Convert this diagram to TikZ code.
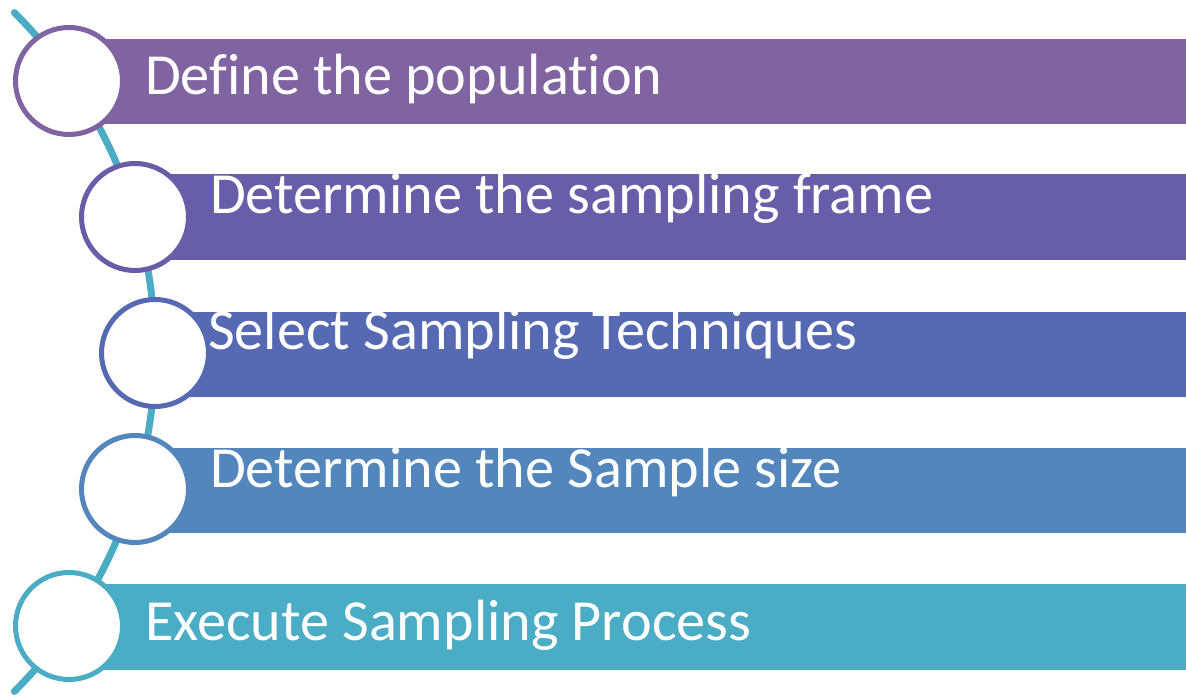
\documentclass[tikz,border=0pt]{standalone}
\usepackage{fontspec}
\setmainfont{Carlito}[Ligatures=NoCommon]
\usepackage{tikz}
\usepackage{xcolor}
\definecolor{color1}{RGB}{128,100,162}
\definecolor{color2}{RGB}{103,93,168}
\definecolor{color3}{RGB}{86,105,179}
\definecolor{color4}{RGB}{82,134,188}
\definecolor{color5}{RGB}{75,172,198}

\tikzset{
  ring/.style={circle, fill=white, line width=5pt, minimum size=107pt, inner sep=0pt},
  label/.style={anchor=base west, inner sep=0pt, text=white, font=\fontsize{58.2}{66}\selectfont},
}

\begin{document}
\begin{tikzpicture}[x=1pt, y=-1pt]
\useasboundingbox (0,0) rectangle (1186,700);

% the spine behind the rings
\draw[color5, line width=7pt, line cap=round] (14.4,12.6) arc[start angle=-45, end angle=45, radius=480];

% bars
\fill[color1] (69,39) rectangle (1186,124);
\fill[color2] (135,174) rectangle (1186,260);
\fill[color3] (155,312) rectangle (1186,397);
\fill[color4] (135,448) rectangle (1186,533);
\fill[color5] (69,584) rectangle (1186,670);

% rings
\node[ring, draw=color1] (c1) at (69,81) {};
\node[ring, draw=color2] (c2) at (135,217) {};
\node[ring, draw=color3] (c3) at (155,353) {};
\node[ring, draw=color4] (c4) at (135,489) {};
\node[ring, draw=color5] (c5) at (69,626) {};

% step texts
\node[label] (t1) at (145,95) {Define the population};
\node[label] (t2) at (210,214) {Determine the sampling frame};
\node[label] (t3) at (208,350) {Select Sampling Techniques};
\node[label] (t4) at (210,487) {Determine the Sample size};
\node[label] (t5) at (145,640) {Execute Sampling Process};
\end{tikzpicture}
\end{document}
